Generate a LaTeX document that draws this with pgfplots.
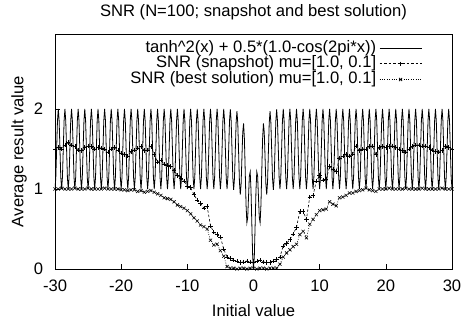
\documentclass[border=0pt]{standalone}
\usepackage{fontspec}
\setmainfont{Liberation Sans}
\usepackage{pgfplots}
\usepackage{pgfplotstable}
\pgfplotsset{compat=1.18}
\pgfplotstableread{
x s b
-30 1.50 1.00
-29.5 1.52 1.00
-29 1.50 1.01
-28.5 1.55 1.00
-28 1.58 1.00
-27.5 1.55 1.00
-27 1.53 1.01
-26.5 1.49 1.00
-26 1.48 1.00
-25.5 1.52 1.00
-25 1.54 1.01
-24.5 1.53 1.00
-24 1.50 1.00
-23.5 1.52 1.00
-23 1.51 1.00
-22.5 1.50 1.01
-22 1.46 1.00
-21.5 1.50 1.00
-21 1.52 1.00
-20.5 1.49 1.00
-20 1.45 0.99
-19.5 1.43 0.99
-19 1.41 0.98
-18.5 1.47 0.99
-18 1.49 0.99
-17.5 1.51 0.97
-17 1.53 0.98
-16.5 1.48 0.96
-16 1.49 0.97
-15.5 1.53 0.98
-15 1.43 0.96
-14.5 1.34 0.94
-14 1.36 0.92
-13.5 1.31 0.89
-13 1.30 0.88
-12.5 1.28 0.87
-12 1.23 0.84
-11.5 1.17 0.80
-11 1.14 0.78
-10.5 1.10 0.76
-10 1.04 0.73
-9.5 1.02 0.69
-9 0.93 0.64
-8.5 0.86 0.60
-8 0.82 0.55
-7.5 0.76 0.53
-7 0.78 0.50
-6.5 0.54 0.36
-6 0.46 0.30
-5.5 0.43 0.31
-5 0.40 0.23
-4.5 0.25 0.16
-4 0.15 0.03
-3.5 0.13 0.01
-3 0.11 0.01
-2.5 0.10 0.00
-2 0.08 0.01
-1.5 0.09 0.01
-1 0.10 0.00
-0.5 0.09 0.01
0 0.08 0.01
0.5 0.10 0.00
1 0.11 0.01
1.5 0.09 0.01
2 0.08 0.00
2.5 0.08 0.01
3 0.10 0.01
3.5 0.12 0.01
4 0.15 0.06
4.5 0.29 0.15
5 0.32 0.20
5.5 0.37 0.24
6 0.44 0.28
6.5 0.52 0.31
7 0.72 0.43
7.5 0.72 0.47
8 0.62 0.39
8.5 0.90 0.56
9 0.92 0.62
9.5 1.10 0.68
10 1.17 0.73
10.5 1.11 0.74
11 1.12 0.75
11.5 1.28 0.84
12 1.25 0.81
12.5 1.22 0.79
13 1.39 0.89
13.5 1.41 0.90
14 1.43 0.92
14.5 1.41 0.95
15 1.44 0.95
15.5 1.54 0.97
16 1.48 0.98
16.5 1.50 0.99
17 1.50 1.01
17.5 1.53 0.99
18 1.54 0.98
18.5 1.43 0.97
19 1.52 1.00
19.5 1.53 1.00
20 1.52 1.00
20.5 1.53 1.01
21 1.54 1.00
21.5 1.52 1.00
22 1.50 1.00
22.5 1.48 1.00
23 1.46 1.01
23.5 1.50 1.00
24 1.53 1.00
24.5 1.55 1.00
25 1.55 1.00
25.5 1.54 1.01
26 1.54 1.00
26.5 1.52 1.00
27 1.49 1.00
27.5 1.47 1.00
28 1.46 1.00
28.5 1.48 1.01
29 1.53 1.00
29.5 1.52 1.00
30 1.50 1.00
}\snrdata
\begin{document}
\begin{tikzpicture}[font=\fontsize{16.6bp}{18bp}\selectfont]
\useasboundingbox (-55bp,-55bp) rectangle (407bp,269bp);
\begin{axis}[
  at={(0,0)}, anchor=south west, scale only axis,
  width=397bp, height=235bp,
  xmin=-30, xmax=30, ymin=0, ymax=2.9375,
  xtick={-30,-20,-10,0,10,20,30},
  xticklabels={-30,-20,-10,0,10,20,30},
  ytick={0,1,2}, yticklabels={0,1,2},
  tick align=inside, xtick pos=bottom, ytick pos=left,
  major tick length=5bp,
  tick style={black, line width=0.6bp},
  axis line style={black, line width=0.8bp},
  xticklabel style={anchor=base, inner sep=0pt, yshift=-22.7bp},
  yticklabel style={anchor=east, inner sep=0pt, xshift=-11.7bp},
  every axis title shift=0pt,
  title={SNR (N=100; snapshot and best solution)},
  title style={at={(axis description cs:0.5,1.0736)}, anchor=base, inner sep=0pt},
  xlabel={Initial value},
  xlabel style={at={(axis description cs:0.5,-0.203)}, anchor=base, inner sep=0pt},
  ylabel={Average result value},
  ylabel style={at={(axis description cs:-0.0796,0.5)}, anchor=base, inner sep=0pt},
  legend cell align=right, legend plot pos=right,
  legend style={draw=none, fill=none, inner sep=0pt, outer sep=0pt,
    at={(axis description cs:0.9244,0.9734)}, anchor=north east,
    column sep=3bp, row sep=0pt,
    nodes={inner sep=0pt, text height=11.9bp, text depth=3.8bp}},
  legend image code/.code={\draw[mark repeat=2,mark phase=2,#1] plot coordinates {(0bp,0bp)(21bp,0bp)(42bp,0bp)};},
]
\addplot[black, line width=0.8bp, mark=none] coordinates {
(-30,1)(-29.875,1.146)(-29.75,1.5)(-29.625,1.854)(-29.5,2)(-29.375,1.854)(-29.25,1.5)(-29.125,1.146)
(-29,1)(-28.875,1.146)(-28.75,1.5)(-28.625,1.854)(-28.5,2)(-28.375,1.854)(-28.25,1.5)(-28.125,1.146)
(-28,1)(-27.875,1.146)(-27.75,1.5)(-27.625,1.854)(-27.5,2)(-27.375,1.854)(-27.25,1.5)(-27.125,1.146)
(-27,1)(-26.875,1.146)(-26.75,1.5)(-26.625,1.854)(-26.5,2)(-26.375,1.854)(-26.25,1.5)(-26.125,1.146)
(-26,1)(-25.875,1.146)(-25.75,1.5)(-25.625,1.854)(-25.5,2)(-25.375,1.854)(-25.25,1.5)(-25.125,1.146)
(-25,1)(-24.875,1.146)(-24.75,1.5)(-24.625,1.854)(-24.5,2)(-24.375,1.854)(-24.25,1.5)(-24.125,1.146)
(-24,1)(-23.875,1.146)(-23.75,1.5)(-23.625,1.854)(-23.5,2)(-23.375,1.854)(-23.25,1.5)(-23.125,1.146)
(-23,1)(-22.875,1.146)(-22.75,1.5)(-22.625,1.854)(-22.5,2)(-22.375,1.854)(-22.25,1.5)(-22.125,1.146)
(-22,1)(-21.875,1.146)(-21.75,1.5)(-21.625,1.854)(-21.5,2)(-21.375,1.854)(-21.25,1.5)(-21.125,1.146)
(-21,1)(-20.875,1.146)(-20.75,1.5)(-20.625,1.854)(-20.5,2)(-20.375,1.854)(-20.25,1.5)(-20.125,1.146)
(-20,1)(-19.875,1.146)(-19.75,1.5)(-19.625,1.854)(-19.5,2)(-19.375,1.854)(-19.25,1.5)(-19.125,1.146)
(-19,1)(-18.875,1.146)(-18.75,1.5)(-18.625,1.854)(-18.5,2)(-18.375,1.854)(-18.25,1.5)(-18.125,1.146)
(-18,1)(-17.875,1.146)(-17.75,1.5)(-17.625,1.854)(-17.5,2)(-17.375,1.854)(-17.25,1.5)(-17.125,1.146)
(-17,1)(-16.875,1.146)(-16.75,1.5)(-16.625,1.854)(-16.5,2)(-16.375,1.854)(-16.25,1.5)(-16.125,1.146)
(-16,1)(-15.875,1.146)(-15.75,1.5)(-15.625,1.854)(-15.5,2)(-15.375,1.854)(-15.25,1.5)(-15.125,1.146)
(-15,1)(-14.875,1.146)(-14.75,1.5)(-14.625,1.854)(-14.5,2)(-14.375,1.854)(-14.25,1.5)(-14.125,1.146)
(-14,1)(-13.875,1.146)(-13.75,1.5)(-13.625,1.854)(-13.5,2)(-13.375,1.854)(-13.25,1.5)(-13.125,1.146)
(-13,1)(-12.875,1.146)(-12.75,1.5)(-12.625,1.854)(-12.5,2)(-12.375,1.854)(-12.25,1.5)(-12.125,1.146)
(-12,1)(-11.875,1.146)(-11.75,1.5)(-11.625,1.854)(-11.5,2)(-11.375,1.854)(-11.25,1.5)(-11.125,1.146)
(-11,1)(-10.875,1.146)(-10.75,1.5)(-10.625,1.854)(-10.5,2)(-10.375,1.854)(-10.25,1.5)(-10.125,1.146)
(-10,1)(-9.875,1.146)(-9.75,1.5)(-9.625,1.854)(-9.5,2)(-9.375,1.854)(-9.25,1.5)(-9.125,1.146)
(-9,1)(-8.875,1.146)(-8.75,1.5)(-8.625,1.854)(-8.5,2)(-8.375,1.854)(-8.25,1.5)(-8.125,1.146)
(-8,1)(-7.875,1.146)(-7.75,1.5)(-7.625,1.854)(-7.5,2)(-7.375,1.854)(-7.25,1.5)(-7.125,1.146)
(-7,1)(-6.875,1.146)(-6.75,1.5)(-6.625,1.854)(-6.5,2)(-6.375,1.854)(-6.25,1.5)(-6.125,1.146)
(-6,1)(-5.875,1.146)(-5.75,1.5)(-5.625,1.854)(-5.5,2)(-5.375,1.854)(-5.25,1.5)(-5.125,1.146)
(-5,1)(-4.875,1.146)(-4.75,1.5)(-4.625,1.854)(-4.5,2)(-4.375,1.854)(-4.25,1.5)(-4.125,1.146)
(-4,0.999)(-3.875,1.145)(-3.75,1.498)(-3.625,1.851)(-3.5,1.996)(-3.375,1.849)(-3.25,1.494)(-3.125,1.139)
(-3,0.990)(-2.875,1.134)(-2.75,1.484)(-2.625,1.833)(-2.5,1.973)(-2.375,1.820)(-2.25,1.457)(-2.125,1.091)
(-2,0.929)(-1.875,1.057)(-1.75,1.386)(-1.625,1.710)(-1.5,1.819)(-1.375,1.628)(-1.25,1.220)(-1.125,0.801)
(-1,0.580)(-0.875,0.642)(-0.75,0.903)(-0.625,1.161)(-0.5,1.214)(-0.375,0.982)(-0.25,0.560)(-0.125,0.162)
(0,0)
(0.125,0.162)(0.25,0.560)(0.375,0.982)(0.5,1.214)(0.625,1.161)(0.75,0.903)(0.875,0.642)(1,0.580)
(1.125,0.801)(1.25,1.220)(1.375,1.628)(1.5,1.819)(1.625,1.710)(1.75,1.386)(1.875,1.057)(2,0.929)
(2.125,1.091)(2.25,1.457)(2.375,1.820)(2.5,1.973)(2.625,1.833)(2.75,1.484)(2.875,1.134)(3,0.990)
(3.125,1.139)(3.25,1.494)(3.375,1.849)(3.5,1.996)(3.625,1.851)(3.75,1.498)(3.875,1.145)(4,0.999)
(4.125,1.146)(4.25,1.5)(4.375,1.854)(4.5,2)(4.625,1.854)(4.75,1.5)(4.875,1.146)(5,1)
(5.125,1.146)(5.25,1.5)(5.375,1.854)(5.5,2)(5.625,1.854)(5.75,1.5)(5.875,1.146)(6,1)
(6.125,1.146)(6.25,1.5)(6.375,1.854)(6.5,2)(6.625,1.854)(6.75,1.5)(6.875,1.146)(7,1)
(7.125,1.146)(7.25,1.5)(7.375,1.854)(7.5,2)(7.625,1.854)(7.75,1.5)(7.875,1.146)(8,1)
(8.125,1.146)(8.25,1.5)(8.375,1.854)(8.5,2)(8.625,1.854)(8.75,1.5)(8.875,1.146)(9,1)
(9.125,1.146)(9.25,1.5)(9.375,1.854)(9.5,2)(9.625,1.854)(9.75,1.5)(9.875,1.146)(10,1)
(10.125,1.146)(10.25,1.5)(10.375,1.854)(10.5,2)(10.625,1.854)(10.75,1.5)(10.875,1.146)(11,1)
(11.125,1.146)(11.25,1.5)(11.375,1.854)(11.5,2)(11.625,1.854)(11.75,1.5)(11.875,1.146)(12,1)
(12.125,1.146)(12.25,1.5)(12.375,1.854)(12.5,2)(12.625,1.854)(12.75,1.5)(12.875,1.146)(13,1)
(13.125,1.146)(13.25,1.5)(13.375,1.854)(13.5,2)(13.625,1.854)(13.75,1.5)(13.875,1.146)(14,1)
(14.125,1.146)(14.25,1.5)(14.375,1.854)(14.5,2)(14.625,1.854)(14.75,1.5)(14.875,1.146)(15,1)
(15.125,1.146)(15.25,1.5)(15.375,1.854)(15.5,2)(15.625,1.854)(15.75,1.5)(15.875,1.146)(16,1)
(16.125,1.146)(16.25,1.5)(16.375,1.854)(16.5,2)(16.625,1.854)(16.75,1.5)(16.875,1.146)(17,1)
(17.125,1.146)(17.25,1.5)(17.375,1.854)(17.5,2)(17.625,1.854)(17.75,1.5)(17.875,1.146)(18,1)
(18.125,1.146)(18.25,1.5)(18.375,1.854)(18.5,2)(18.625,1.854)(18.75,1.5)(18.875,1.146)(19,1)
(19.125,1.146)(19.25,1.5)(19.375,1.854)(19.5,2)(19.625,1.854)(19.75,1.5)(19.875,1.146)(20,1)
(20.125,1.146)(20.25,1.5)(20.375,1.854)(20.5,2)(20.625,1.854)(20.75,1.5)(20.875,1.146)(21,1)
(21.125,1.146)(21.25,1.5)(21.375,1.854)(21.5,2)(21.625,1.854)(21.75,1.5)(21.875,1.146)(22,1)
(22.125,1.146)(22.25,1.5)(22.375,1.854)(22.5,2)(22.625,1.854)(22.75,1.5)(22.875,1.146)(23,1)
(23.125,1.146)(23.25,1.5)(23.375,1.854)(23.5,2)(23.625,1.854)(23.75,1.5)(23.875,1.146)(24,1)
(24.125,1.146)(24.25,1.5)(24.375,1.854)(24.5,2)(24.625,1.854)(24.75,1.5)(24.875,1.146)(25,1)
(25.125,1.146)(25.25,1.5)(25.375,1.854)(25.5,2)(25.625,1.854)(25.75,1.5)(25.875,1.146)(26,1)
(26.125,1.146)(26.25,1.5)(26.375,1.854)(26.5,2)(26.625,1.854)(26.75,1.5)(26.875,1.146)(27,1)
(27.125,1.146)(27.25,1.5)(27.375,1.854)(27.5,2)(27.625,1.854)(27.75,1.5)(27.875,1.146)(28,1)
(28.125,1.146)(28.25,1.5)(28.375,1.854)(28.5,2)(28.625,1.854)(28.75,1.5)(28.875,1.146)(29,1)
(29.125,1.146)(29.25,1.5)(29.375,1.854)(29.5,2)(29.625,1.854)(29.75,1.5)(29.875,1.146)(30,1)
};
\addlegendentry{tanh\textasciicircum 2(x) + 0.5*(1.0-cos(2pi*x))}
\addplot[black, line width=0.6bp, dash pattern=on 2.5bp off 2bp, mark=+, mark size=2.2bp, mark options={solid, line width=0.6bp}] table[x=x, y=s] {\snrdata};
\addlegendentry{SNR (snapshot) mu=[1.0, 0.1]}
\addplot[black, line width=0.6bp, dash pattern=on 0.8bp off 1.6bp, mark=x, mark size=2.2bp, mark options={solid, line width=0.6bp}] table[x=x, y=b] {\snrdata};
\addlegendentry{SNR (best solution) mu=[1.0, 0.1]}
\end{axis}
\end{tikzpicture}
\end{document}
